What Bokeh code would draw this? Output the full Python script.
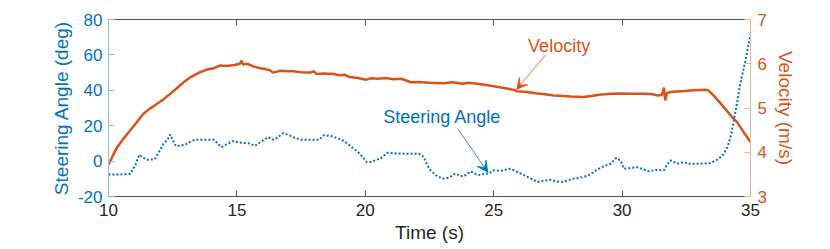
from bokeh.plotting import figure
from bokeh.models import (Range1d, LinearAxis, FixedTicker, Arrow, VeeHead, Label)
from bokeh.embed import file_html
from bokeh.resources import INLINE

# ---------------- data ----------------
steer_t = [10.0, 10.5, 10.85, 11.05, 11.2, 11.35, 11.5, 11.8, 12.0, 12.15, 12.3, 12.4, 12.5, 12.62,
           12.8, 13.0, 13.2, 13.35, 13.7, 14.1, 14.25, 14.4, 14.6, 14.85, 15.1, 15.5, 15.7, 15.9,
           16.2, 16.45, 16.6, 16.8, 17.0, 17.2, 17.5, 17.9, 18.2, 18.4, 18.7, 18.9, 19.1, 19.3,
           19.55, 19.8, 20.05, 20.2, 20.45, 20.6, 20.85, 21.2, 21.6, 22.08, 22.28, 22.4, 22.54,
           22.75, 23.0, 23.25, 23.5, 23.7, 23.84, 24.1, 24.3, 24.5, 24.65, 24.8, 25.0, 25.3, 25.65,
           26.04, 26.4, 26.7, 27.0, 27.2, 27.45, 27.67, 28.1, 28.5, 28.77, 29.0, 29.3, 29.55, 29.78,
           29.95, 30.07, 30.3, 30.59, 30.8, 31.04, 31.3, 31.63, 31.75, 31.88, 32.14, 32.4, 32.6,
           32.92, 33.2, 33.44, 33.6, 33.77, 33.95, 34.1, 34.25, 34.35, 34.48, 34.6, 34.7, 34.8,
           34.9, 35.0]
steer_deg = [-7.5, -7.5, -7.2, -2.0, 3.6, 2.0, 0.8, 1.0, 6.0, 10.0, 12.0, 15.0, 12.0, 8.5,
             8.7, 9.4, 11.0, 12.0, 12.0, 12.0, 10.0, 7.9, 9.5, 11.3, 10.5, 10.0, 8.6, 10.5,
             13.5, 12.0, 13.5, 15.8, 14.8, 13.5, 12.0, 12.0, 12.0, 14.7, 14.0, 13.0, 11.8, 10.0,
             7.0, 4.0, -0.5, -0.5, 0.8, 1.5, 4.7, 4.3, 4.2, 4.2, 2.3, -2.0, -5.2,
             -8.0, -10.0, -9.5, -7.1, -8.3, -8.6, -5.8, -7.3, -8.0, -7.0, -7.1, -5.2, -5.5, -4.3,
             -7.0, -9.5, -11.8, -11.0, -10.5, -11.5, -11.8, -10.0, -9.0, -7.5, -5.0, -2.8, -1.5, 1.9,
             0.0, -4.3, -4.0, -3.4, -4.5, -5.8, -5.0, -5.2, -2.0, 0.4, -1.5, -0.6, -1.5,
             -1.5, -1.4, -1.1, 0.0, 1.4, 4.0, 7.9, 15.0, 23.0, 33.0, 43.6, 50.0, 56.7,
             64.0, 71.8]

vel_t = [10.0, 10.15, 10.33, 10.6, 10.84, 11.1, 11.36, 11.6, 11.88, 12.15, 12.4, 12.65, 12.92,
         13.2, 13.57, 13.85, 14.1, 14.35, 14.6, 14.9, 15.12, 15.18, 15.25, 15.4, 15.64, 15.9,
         16.1, 16.3, 16.4, 16.7, 17.0, 17.2, 17.5, 17.85, 18.0, 18.1, 18.4, 18.76, 19.0, 19.2,
         19.4, 19.7, 20.05, 20.2, 20.5, 20.8, 21.1, 21.4, 21.7, 21.76, 22.1, 22.5, 23.05, 23.4,
         23.8, 24.0, 24.35, 24.7, 25.0, 25.4, 25.78, 25.9, 26.3, 26.7, 27.0, 27.34, 27.7, 28.0,
         28.5, 28.8, 29.1, 29.55, 29.9, 30.3, 30.85, 31.2, 31.4, 31.55, 31.63, 31.68, 31.75,
         31.88, 32.3, 32.8, 33.2, 33.35, 33.57, 33.96, 34.29, 34.48, 34.74, 35.0]
vel_ms = [3.72, 3.90, 4.11, 4.32, 4.49, 4.68, 4.87, 4.98, 5.09, 5.20, 5.32, 5.44, 5.58,
          5.70, 5.81, 5.87, 5.90, 5.96, 5.95, 5.97, 6.00, 6.07, 5.98, 6.00, 5.94, 5.90,
          5.88, 5.85, 5.80, 5.84, 5.83, 5.83, 5.81, 5.80, 5.83, 5.77, 5.78, 5.77, 5.74, 5.75,
          5.70, 5.68, 5.64, 5.67, 5.66, 5.68, 5.65, 5.66, 5.60, 5.58, 5.59, 5.57, 5.56, 5.58,
          5.55, 5.57, 5.55, 5.52, 5.49, 5.45, 5.41, 5.38, 5.36, 5.33, 5.31, 5.28, 5.27, 5.26,
          5.25, 5.27, 5.30, 5.32, 5.33, 5.32, 5.32, 5.31, 5.28, 5.30, 5.46, 5.17, 5.34,
          5.36, 5.38, 5.40, 5.41, 5.40, 5.28, 5.02, 4.79, 4.68, 4.45, 4.23]

x_ticks = [10, 15, 20, 25, 30, 35]
deg_ticks = [-20, 0, 20, 40, 60, 80]
vel_ticks = [3, 4, 5, 6, 7]

# annotation anchors (data coordinates)
vel_text = (26.34, 6.40)
vel_arrow = (27.02, 6.20, 25.89, 5.42)
steer_text = (20.70, 24.8)
steer_arrow = (23.60, 18.25, 24.77, -6.3)

BLUE = "#0072BD"
ORANGE = "#D95319"
DARK = "#262626"
FONT = "Liberation Sans"

p = figure(frame_width=642, frame_height=177, output_backend="svg", toolbar_location=None,
           x_range=Range1d(10, 35), y_range=Range1d(-20, 80),
           min_border_left=108, min_border_right=72, min_border_top=19, min_border_bottom=45)
p.extra_y_ranges = {"vel": Range1d(3, 7)}
p.outline_line_color = None
p.xgrid.visible = False
p.ygrid.visible = False
p.background_fill_color = "white"
p.border_fill_color = "white"

def style_axis(ax, color, line_color, ticks):
    ax.ticker = FixedTicker(ticks=ticks)
    ax.axis_line_color = line_color
    ax.axis_line_width = 1
    ax.major_tick_line_color = line_color
    ax.major_tick_in = 6
    ax.major_tick_out = 0
    ax.minor_tick_line_color = None
    ax.major_label_text_color = color
    ax.major_label_text_font = FONT
    ax.major_label_text_font_size = "17px"
    ax.axis_label_text_color = color
    ax.axis_label_text_font = FONT
    ax.axis_label_text_font_size = "19px"
    ax.axis_label_text_font_style = "normal"

xa = p.xaxis[0]
style_axis(xa, DARK, "#555555", x_ticks)
xa.axis_label = "Time (s)"
xa.major_label_standoff = 7
xa.axis_label_standoff = 3

ya = p.yaxis[0]
style_axis(ya, BLUE, "#8fbde3", deg_ticks)
ya.axis_label = "Steering Angle (deg)"
ya.major_label_standoff = 6
ya.axis_label_standoff = 3
ya.major_label_overrides = {t: str(t) for t in deg_ticks}

ra = LinearAxis(y_range_name="vel")
style_axis(ra, ORANGE, "#f0b49a", vel_ticks)
ra.axis_label = "Velocity (m/s)"
ra.major_label_standoff = 7
ra.axis_label_standoff = 5
p.add_layout(ra, "right")

ta = LinearAxis()
style_axis(ta, DARK, "#555555", x_ticks)
ta.major_label_overrides = {t: "" for t in x_ticks}
ta.major_label_standoff = 0
p.add_layout(ta, "above")

p.line(vel_t, vel_ms, y_range_name="vel", line_color=ORANGE, line_width=2.5)
p.line(steer_t, steer_deg, line_color=BLUE, line_width=2, line_dash="2 2")

p.add_layout(Label(x=vel_text[0], y=vel_text[1], y_range_name="vel", text="Velocity",
                   text_color=ORANGE, text_font=FONT, text_font_size="18px",
                   text_baseline="middle", text_align="left"))
p.add_layout(Arrow(x_start=vel_arrow[0], y_start=vel_arrow[1], x_end=vel_arrow[2], y_end=vel_arrow[3],
                   y_range_name="vel", line_color=ORANGE, line_width=0.8,
                   end=VeeHead(size=11, fill_color=ORANGE, line_color=ORANGE, line_width=0.8)))
p.add_layout(Label(x=steer_text[0], y=steer_text[1], text="Steering Angle",
                   text_color=BLUE, text_font=FONT, text_font_size="18px",
                   text_baseline="middle", text_align="left"))
p.add_layout(Arrow(x_start=steer_arrow[0], y_start=steer_arrow[1], x_end=steer_arrow[2], y_end=steer_arrow[3],
                   line_color=BLUE, line_width=0.8,
                   end=VeeHead(size=11, fill_color=BLUE, line_color=BLUE, line_width=0.8)))

open("out.html", "w").write(file_html(p, INLINE))
